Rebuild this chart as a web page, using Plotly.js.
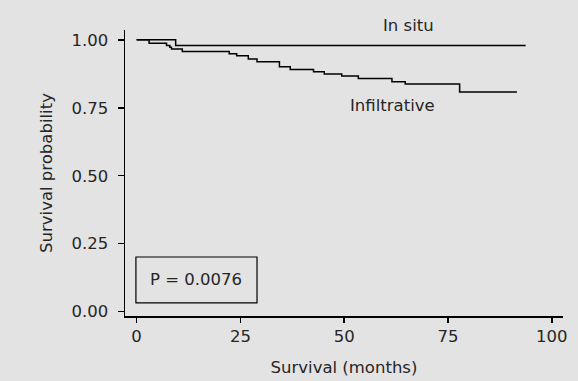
<!DOCTYPE html>
<html>
<head>
<meta charset="utf-8">
<script src="https://cdn.plot.ly/plotly-3.0.1.min.js"></script>
<style>html,body{margin:0;padding:0;background:#e3e3e3;}#chart{width:578px;height:381px;}</style>
</head>
<body>
<div id="chart"></div>
<script>
// In situ group (Kaplan-Meier steps)
const inSituTime = [0, 9.4, 93.7];
const inSituSurv = [1.0, 0.979, 0.979];
// Infiltrative group (Kaplan-Meier steps)
const infilTime = [0, 3.0, 7.2, 8.0, 8.4, 11.0, 22.3, 24.1, 26.9, 29.0, 34.4, 37.0, 42.6, 45.2, 49.4, 53.4, 61.5, 64.7, 77.8, 91.6];
const infilSurv = [1.0, 0.987, 0.979, 0.973, 0.966, 0.957, 0.949, 0.941, 0.929, 0.919, 0.901, 0.891, 0.882, 0.874, 0.867, 0.858, 0.846, 0.837, 0.808, 0.808];
const xTicks = [0, 25, 50, 75, 100];
const yTicks = [0, 0.25, 0.5, 0.75, 1.0];
const yTickText = ["0.00", "0.25", "0.50", "0.75", "1.00"];
const pValueText = "P = 0.0076";

const font = "DejaVu Sans, sans-serif";
const fs = 16.5;
const tc = "#262626";
const traces = [
  {x: inSituTime, y: inSituSurv, mode: "lines", line: {shape: "hv", color: "#000", width: 1.5}, name: "In situ", hoverinfo: "skip"},
  {x: infilTime, y: infilSurv, mode: "lines", line: {shape: "hv", color: "#000", width: 1.5}, name: "Infiltrative", hoverinfo: "skip"}
];
const layout = {
  width: 578, height: 381,
  margin: {l: 125, r: 15, t: 30, b: 65, pad: 0},
  paper_bgcolor: "#e3e3e3", plot_bgcolor: "#e3e3e3",
  showlegend: false,
  font: {family: font, size: fs, color: tc},
  xaxis: {
    range: [-2.8, 102.7], tickvals: xTicks, ticktext: xTicks.map(String),
    showgrid: false, zeroline: false, showline: true, linecolor: "#000", linewidth: 1.5,
    ticks: "outside", ticklen: 5, tickcolor: "#000", tickwidth: 1.5,
    tickfont: {family: font, size: fs, color: tc},
    title: {text: "Survival (months)", font: {family: font, size: fs, color: tc}, standoff: 16}
  },
  yaxis: {
    range: [-0.016, 1.036], tickvals: yTicks, ticktext: yTickText,
    showgrid: false, zeroline: false, showline: true, linecolor: "#000", linewidth: 1.5,
    ticks: "outside", ticklen: 6, tickcolor: "#000", tickwidth: 1.5,
    ticklabelstandoff: 6,
    tickfont: {family: font, size: fs, color: tc},
    title: {text: "Survival probability", font: {family: font, size: fs, color: tc}, standoff: 14}
  },
  shapes: [
    {type: "rect", xref: "x", yref: "y", x0: -0.17, x1: 29.0, y0: 0.032, y1: 0.201, line: {color: "#000", width: 1.2}}
  ],
  annotations: [
    {x: 14.4, y: 0.1165, xref: "x", yref: "y", text: pValueText, showarrow: false, xanchor: "center", yanchor: "middle", font: {family: font, size: fs, color: tc}},
    {x: 65.6, y: 1.014, xref: "x", yref: "paper", text: "In situ", showarrow: false, xanchor: "center", yanchor: "middle", font: {family: font, size: fs, color: tc}},
    {x: 61.7, y: 0.758, xref: "x", yref: "y", text: "Infiltrative", showarrow: false, xanchor: "center", yanchor: "middle", font: {family: font, size: fs, color: tc}}
  ]
};
Plotly.newPlot("chart", traces, layout, {staticPlot: true, displayModeBar: false});
</script>
</body>
</html>
